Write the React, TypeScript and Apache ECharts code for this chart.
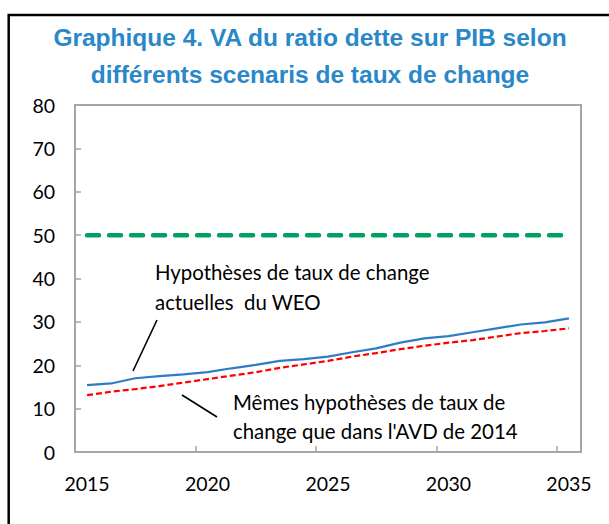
import React, { useEffect, useRef } from "react";
import * as echarts from "echarts";

const years = [
  "2015", "2016", "2017", "2018", "2019", "2020", "2021", "2022", "2023", "2024", "2025",
  "2026", "2027", "2028", "2029", "2030", "2031", "2032", "2033", "2034", "2035",
];
const weoValues = [
  15.4, 15.8, 17.0, 17.5, 17.9, 18.4, 19.3, 20.1, 21.0, 21.4, 22.0,
  23.0, 23.9, 25.2, 26.2, 26.7, 27.6, 28.5, 29.4, 29.9, 30.8,
];
const avdValues = [
  13.1, 13.9, 14.5, 15.2, 16.0, 16.8, 17.6, 18.4, 19.4, 20.2, 21.0,
  22.0, 22.8, 23.7, 24.5, 25.2, 25.8, 26.6, 27.4, 27.9, 28.5,
];
const thresholdValues = [
  50, 50, 50, 50, 50, 50, 50, 50, 50, 50, 50,
  50, 50, 50, 50, 50, 50, 50, 50, 50, 50,
];
const titleLines = [
  "Graphique 4. VA du ratio dette sur PIB selon",
  "différents scenaris de taux de change",
];
const weoLabel = "Hypothèses de taux de change\nactuelles  du WEO";
const avdLabel = "Mêmes hypothèses de taux de\nchange que dans l'AVD de 2014";

const FONT = "Lato, 'Open Sans', sans-serif";
const AXIS_GREY = "#a6a6a6";

export default function App() {
  const ref = useRef<HTMLDivElement>(null);

  useEffect(() => {
    if (!ref.current) return;
    const chart = echarts.init(ref.current, undefined, { renderer: "svg" });
    chart.setOption({
      animation: false,
      backgroundColor: "#ffffff",
      grid: {
        left: 75,
        top: 105,
        right: 28,
        bottom: 72,
        show: true,
        borderColor: AXIS_GREY,
        borderWidth: 2,
        backgroundColor: "transparent",
      },
      xAxis: {
        type: "category",
        data: years,
        boundaryGap: true,
        axisLine: { show: true, lineStyle: { color: AXIS_GREY, width: 2 } },
        axisTick: { show: true, inside: true, interval: 4, length: 6, lineStyle: { color: AXIS_GREY, width: 1.5 } },
        axisLabel: { interval: 4, color: "#000", fontSize: 19.5, fontFamily: FONT, margin: 21 },
        splitLine: { show: false },
      },
      yAxis: {
        type: "value",
        min: 0,
        max: 80,
        interval: 10,
        axisLine: { show: true, lineStyle: { color: AXIS_GREY, width: 2 } },
        axisTick: { show: true, inside: true, length: 6, lineStyle: { color: AXIS_GREY, width: 1.5 } },
        axisLabel: { color: "#000", fontSize: 19.5, fontFamily: FONT, margin: 20 },
        splitLine: { show: false },
      },
      series: [
        {
          name: "Seuil",
          type: "line",
          data: thresholdValues,
          symbol: "none",
          lineStyle: { color: "#009f62", width: 4.5, type: [12, 10], cap: "round" },
          z: 3,
        },
        {
          name: "Hypothèses WEO",
          type: "line",
          data: weoValues,
          symbol: "none",
          lineStyle: { color: "#2e7dc4", width: 2.2 },
          z: 4,
        },
        {
          name: "AVD 2014",
          type: "line",
          data: avdValues,
          symbol: "none",
          lineStyle: { color: "#ff0000", width: 2.2, type: [6, 3] },
          z: 4,
        },
      ],
      graphic: [
        {
          type: "rect",
          silent: true,
          shape: { x: 8.7, y: 15, width: 700, height: 600 },
          style: { fill: "none", stroke: "#000", lineWidth: 2.5 },
        },
        {
          type: "text",
          x: 310,
          y: 37,
          style: {
            text: titleLines[0],
            fill: "#2a88c8",
            font: "bold 24.5px 'Liberation Sans', Arial, sans-serif",
            textAlign: "center",
            textVerticalAlign: "middle",
          },
        },
        {
          type: "text",
          x: 310,
          y: 74,
          style: {
            text: titleLines[1],
            fill: "#2a88c8",
            font: "bold 24.5px 'Liberation Sans', Arial, sans-serif",
            textAlign: "center",
            textVerticalAlign: "middle",
          },
        },
        {
          type: "text",
          x: 155,
          y: 257,
          style: {
            text: weoLabel,
            fill: "#000",
            font: "20.4px " + FONT,
            lineHeight: 30,
            textAlign: "left",
            textVerticalAlign: "top",
          },
        },
        {
          type: "text",
          x: 233,
          y: 387,
          style: {
            text: avdLabel,
            fill: "#000",
            font: "20.4px " + FONT,
            lineHeight: 29,
            textAlign: "left",
            textVerticalAlign: "top",
          },
        },
        {
          type: "line",
          silent: true,
          shape: { x1: 157, y1: 320, x2: 133, y2: 371 },
          style: { stroke: "#000", lineWidth: 1.6 },
        },
        {
          type: "line",
          silent: true,
          shape: { x1: 182, y1: 395, x2: 217, y2: 417 },
          style: { stroke: "#000", lineWidth: 1.6 },
        },
      ],
    });
    return () => chart.dispose();
  }, []);

  return (
    <div
      ref={ref}
      style={{ position: "fixed", left: 0, top: 0, width: 609, height: 524, background: "#fff" }}
    />
  );
}
